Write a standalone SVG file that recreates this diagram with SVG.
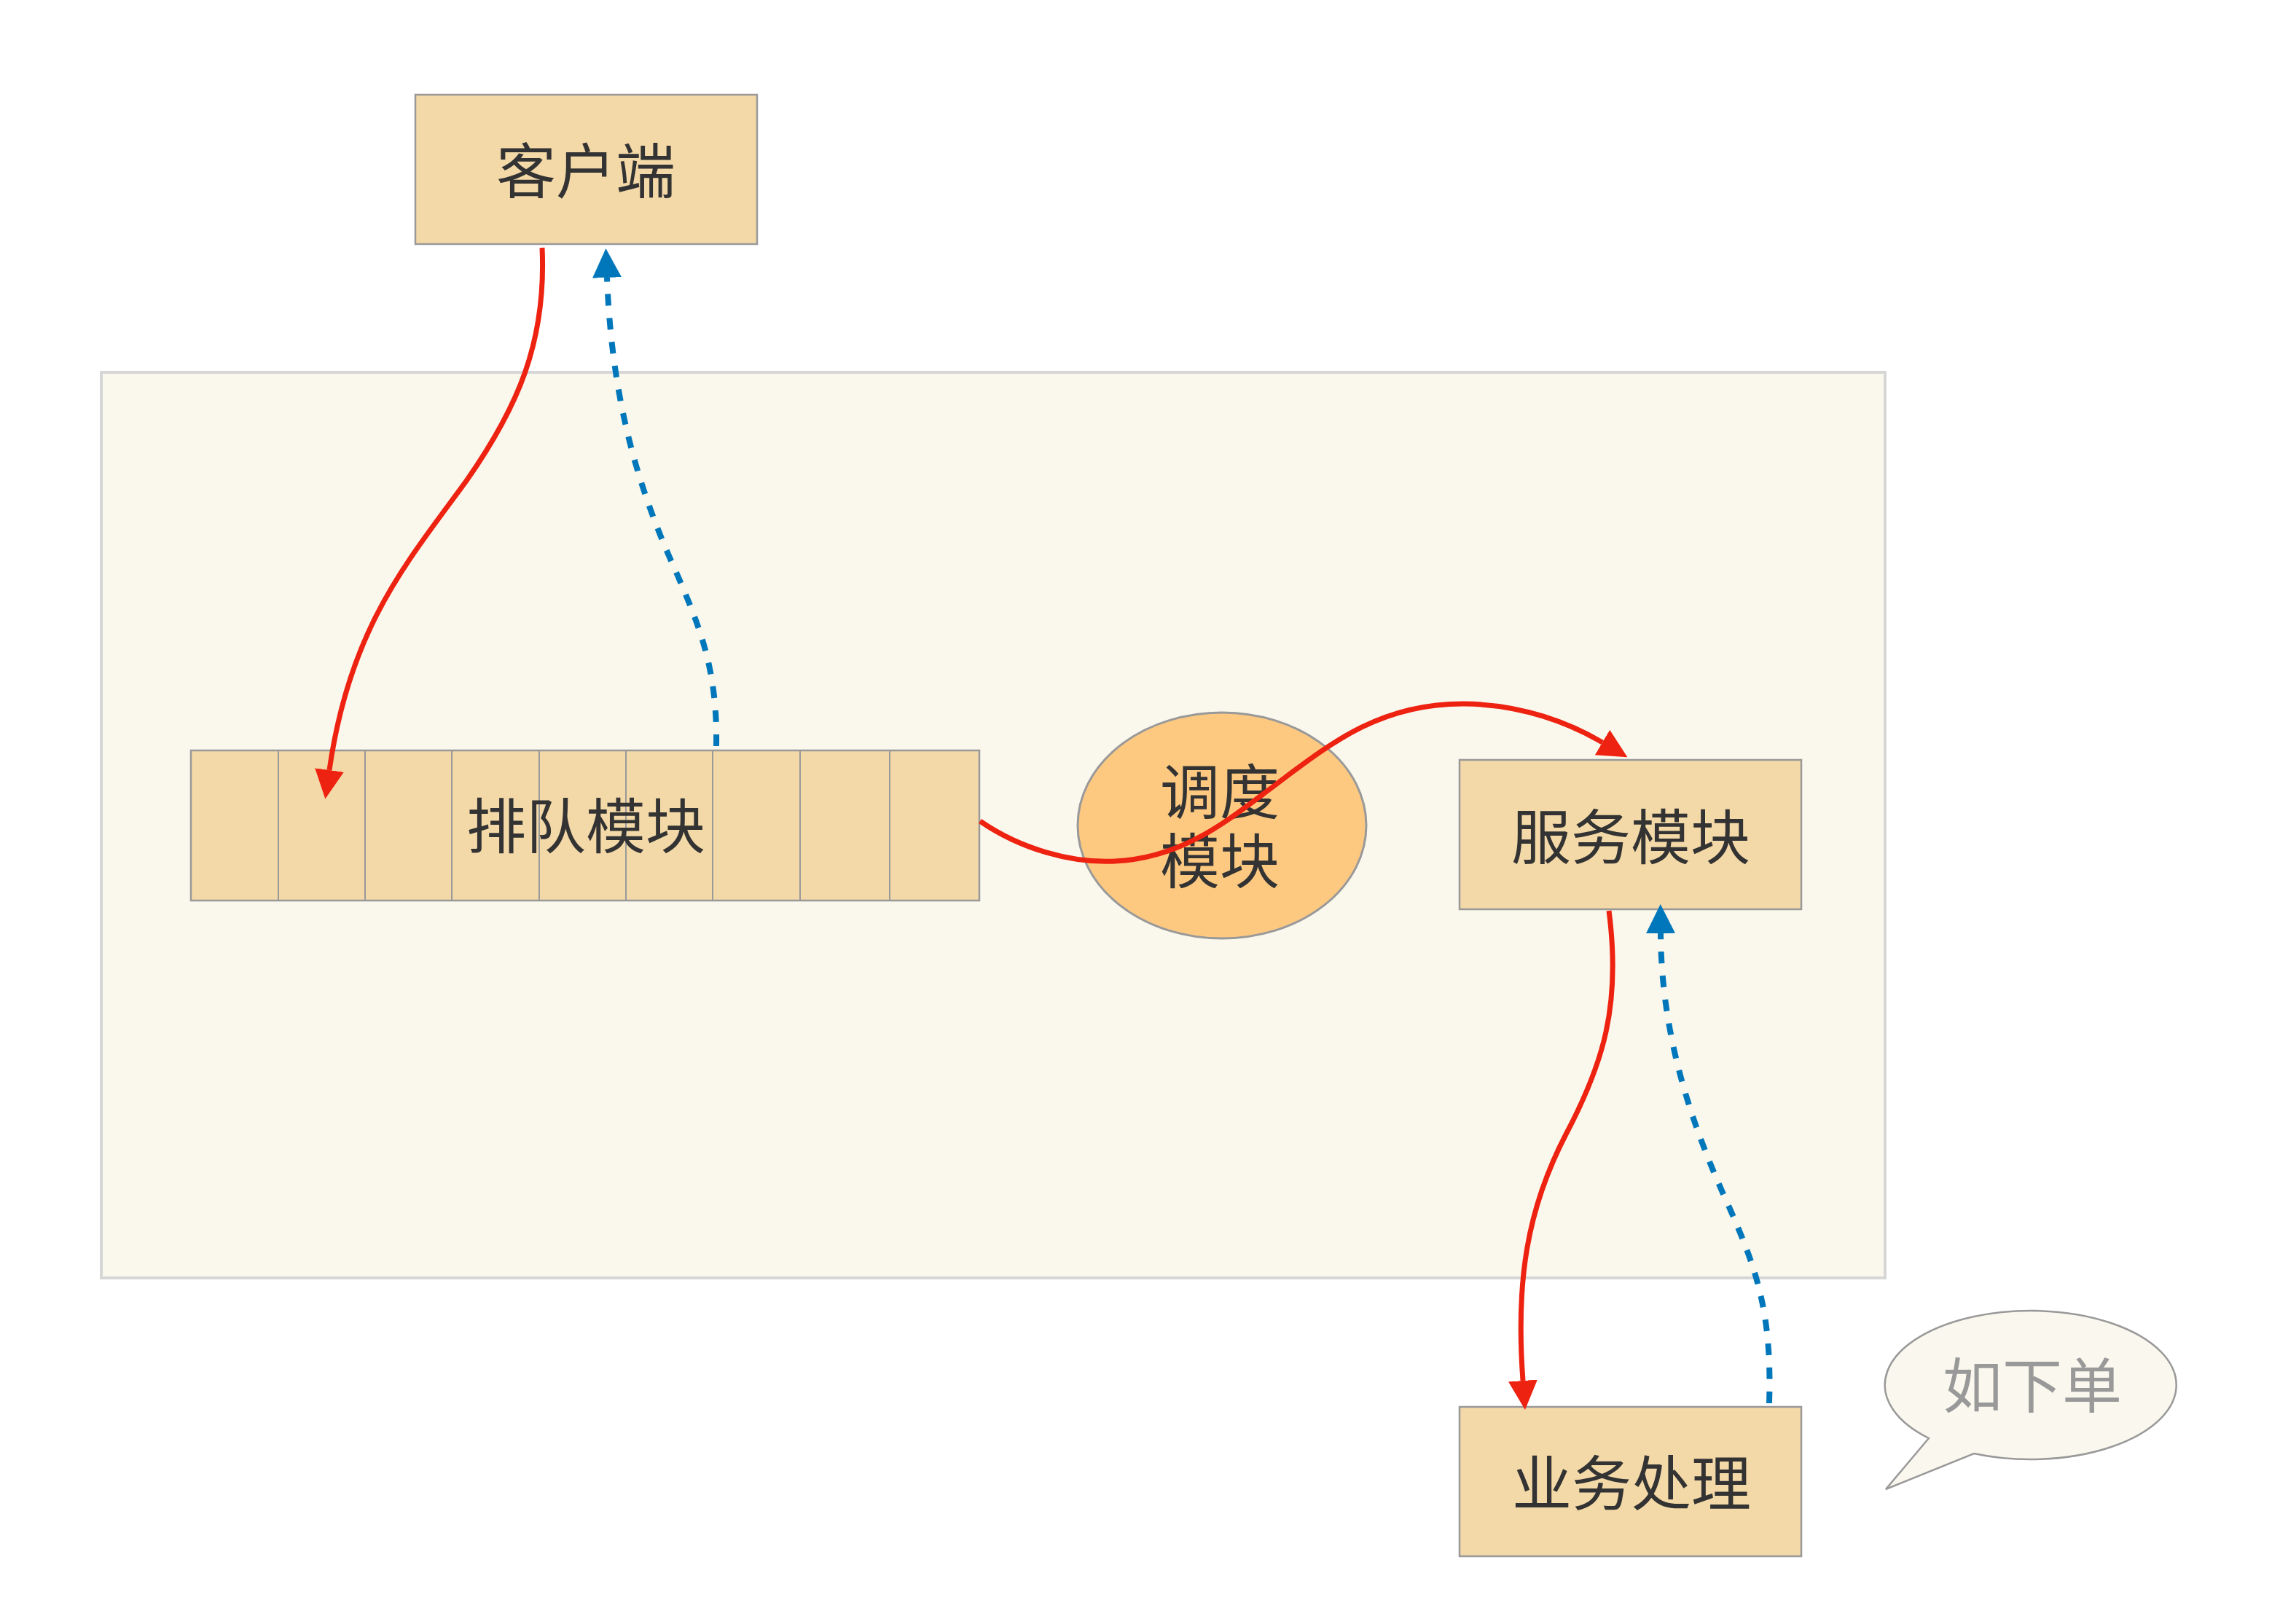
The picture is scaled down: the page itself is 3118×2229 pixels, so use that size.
<svg xmlns="http://www.w3.org/2000/svg" width="3118" height="2229" viewBox="0 0 3118 2229">
<style>
.box{fill:#f4d9a8;stroke:#999999;stroke-width:2.5}
.lbl{font-family:"Noto Sans CJK SC","Noto Sans",sans-serif;font-size:82px;fill:#333333;text-anchor:middle}
.red{fill:none;stroke:#ee2211;stroke-width:7}
.blue{fill:none;stroke:#0077bb;stroke-width:8;stroke-dasharray:16 17}
</style>
<defs>
<marker id="ar" viewBox="0 -20 40 40" refX="0" refY="0" markerWidth="40" markerHeight="40" markerUnits="userSpaceOnUse" orient="auto">
<path d="M0,-20 L40,0 L0,20 z" fill="#ee2211"/>
</marker>
<marker id="ab" viewBox="0 -20 40 40" refX="0" refY="0" markerWidth="40" markerHeight="40" markerUnits="userSpaceOnUse" orient="auto">
<path d="M0,-20 L40,0 L0,20 z" fill="#0077bb"/>
</marker>
</defs>
<rect width="3118" height="2229" fill="#ffffff"/>
<g id="container">
<rect x="139" y="511" width="2448" height="1243" fill="#faf7ec" stroke="#d6d6d6" stroke-width="4"/>
</g>
<g id="client">
<rect class="box" x="570" y="130" width="469" height="205"/>
<text class="lbl" x="804" y="265">客户端</text>
</g>
<g id="queue">
<rect class="box" x="262" y="1030" width="1082" height="206"/>
<g stroke="#999999" stroke-width="2">
<line x1="382" y1="1030" x2="382" y2="1236"/>
<line x1="501" y1="1030" x2="501" y2="1236"/>
<line x1="620" y1="1030" x2="620" y2="1236"/>
<line x1="740" y1="1030" x2="740" y2="1236"/>
<line x1="859" y1="1030" x2="859" y2="1236"/>
<line x1="978" y1="1030" x2="978" y2="1236"/>
<line x1="1098" y1="1030" x2="1098" y2="1236"/>
<line x1="1221" y1="1030" x2="1221" y2="1236"/>
</g>
<text class="lbl" x="804" y="1164">排队模块</text>
</g>
<g id="scheduler">
<ellipse cx="1677" cy="1133" rx="198" ry="155" fill="#fdc981" stroke="#999999" stroke-width="3"/>
<text class="lbl" x="1674" y="1117">调度</text>
<text class="lbl" x="1674" y="1212">模块</text>
</g>
<g id="service">
<rect class="box" x="2003" y="1043" width="469" height="205"/>
<text class="lbl" x="2238" y="1179">服务模块</text>
</g>
<g id="business">
<rect class="box" x="2003" y="1931" width="469" height="205"/>
<text class="lbl" x="2239" y="2066">业务处理</text>
</g>
<g id="note">
<path d="M2647,1974 A200,102 0 1 1 2709,1995 L2588,2044 Z" fill="#faf8ee" stroke="#999999" stroke-width="2.5"/>
<text class="lbl" x="2789" y="1932" style="fill:#999999">如下单</text>
</g>
<g id="connectors">
<path class="red" d="M744,340 C750,470 710,560 640,660 C560,770 480,860 452,1057" marker-end="url(#ar)"/>
<path class="blue" d="M983,1024 C985,920 960,860 930,790 C880,680 840,560 833,381" marker-end="url(#ab)"/>
<path class="red" d="M1345,1127 C1400,1165 1470,1185 1530,1182 C1620,1178 1680,1130 1740,1085 C1820,1025 1890,965 2010,966 C2090,967 2155,993 2199,1019" marker-end="url(#ar)"/>
<path class="red" d="M2208,1250 C2225,1380 2200,1460 2150,1555 C2095,1660 2080,1760 2090,1895" marker-end="url(#ar)"/>
<path class="blue" d="M2428,1926 C2432,1800 2410,1740 2370,1650 C2320,1540 2280,1420 2279,1281" marker-end="url(#ab)"/>
</g>
</svg>
